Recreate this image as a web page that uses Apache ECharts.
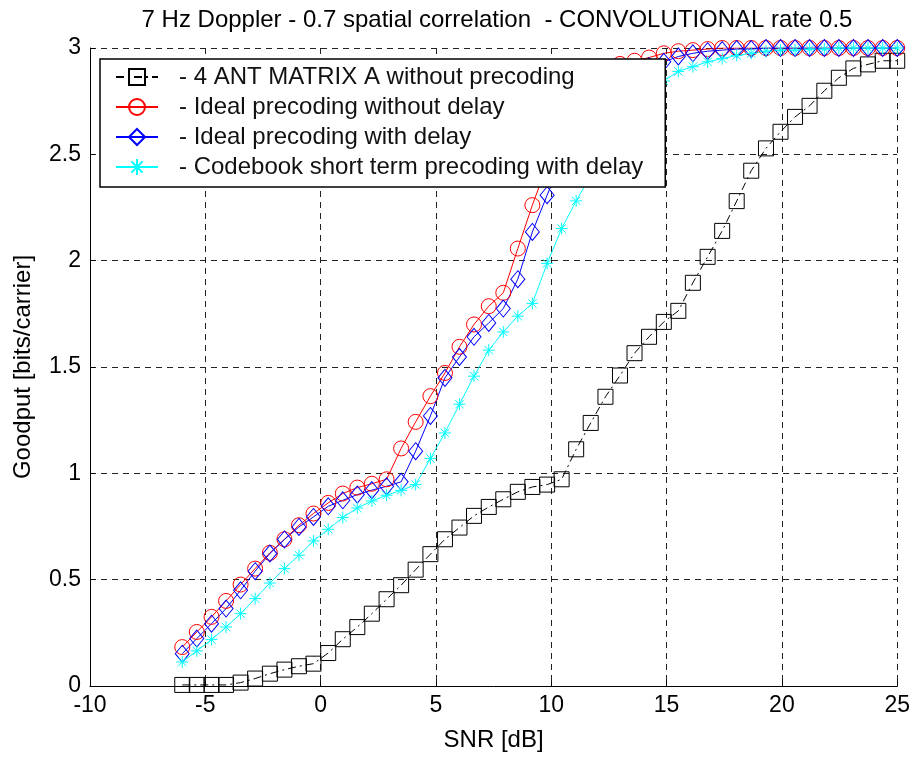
<!DOCTYPE html>
<html>
  <head>
    <meta charset="utf-8">
    <title>Goodput vs SNR</title>
    <style>
    html,body,#chart {
      margin: 0;
      padding: 0;
      width: 913px;
      height: 757px;
      background: #fff;
    }
    </style>
  </head>
  <body>
    <div id="chart"></div>
    <script src="https://cdn.jsdelivr.net/npm/echarts@6/dist/echarts.min.js"></script>
    <script type="text/javascript">
// SNR points (dB), same grid for every curve
var snr = [-6.00, -5.37, -4.73, -4.10, -3.47, -2.84, -2.20, -1.57, -0.94, -0.31,
           0.33, 0.96, 1.59, 2.22, 2.86, 3.49, 4.12, 4.76, 5.39, 6.02,
           6.65, 7.29, 7.92, 8.55, 9.18, 9.82, 10.45, 11.08, 11.71, 12.35,
           12.98, 13.61, 14.24, 14.88, 15.51, 16.14, 16.78, 17.41, 18.04, 18.67,
           19.31, 19.94, 20.57, 21.20, 21.84, 22.47, 23.10, 23.73, 24.37, 25.00];

var noPrecoding = [0.005, 0.005, 0.005, 0.005, 0.016, 0.035, 0.058, 0.077, 0.093, 0.105,
                   0.155, 0.22, 0.277, 0.34, 0.408, 0.474, 0.547, 0.62, 0.69, 0.745,
                   0.80, 0.842, 0.878, 0.913, 0.936, 0.947, 0.972, 1.113, 1.237, 1.36,
                   1.46, 1.565, 1.642, 1.712, 1.764, 1.896, 2.018, 2.14, 2.28, 2.423,
                   2.528, 2.606, 2.676, 2.728, 2.799, 2.86, 2.904, 2.923, 2.94, 2.94];

var idealNoDelay = [0.183, 0.254, 0.325, 0.40, 0.477, 0.552, 0.626, 0.69, 0.756, 0.811,
                    0.861, 0.905, 0.933, 0.951, 0.972, 1.117, 1.242, 1.363, 1.472, 1.595,
                    1.70, 1.786, 1.849, 2.057, 2.261, 2.45, 2.62, 2.75, 2.84, 2.895,
                    2.925, 2.94, 2.955, 2.975, 2.985, 2.99, 2.995, 3.0, 3.0, 3.0,
                    3.0, 3.0, 3.0, 3.0, 3.0, 3.0, 3.0, 3.0, 3.0, 3.0];

var idealDelay = [0.152, 0.223, 0.293, 0.364, 0.45, 0.54, 0.623, 0.689, 0.748, 0.795,
                  0.845, 0.873, 0.90, 0.921, 0.939, 0.96, 1.104, 1.27, 1.449, 1.547,
                  1.642, 1.707, 1.775, 1.913, 2.135, 2.308, 2.47, 2.6, 2.71, 2.79,
                  2.85, 2.89, 2.915, 2.935, 2.96, 2.975, 2.985, 2.99, 2.995, 2.995,
                  3.0, 3.0, 3.0, 3.0, 3.0, 3.0, 3.0, 3.0, 3.0, 3.0];

var codebookDelay = [0.113, 0.165, 0.218, 0.277, 0.34, 0.411, 0.484, 0.552, 0.615, 0.682,
                     0.737, 0.792, 0.837, 0.87, 0.897, 0.92, 0.947, 1.07, 1.19, 1.325,
                     1.457, 1.579, 1.665, 1.739, 1.799, 1.987, 2.151, 2.281, 2.40, 2.51,
                     2.61, 2.70, 2.78, 2.845, 2.89, 2.912, 2.935, 2.95, 2.965, 2.975,
                     2.985, 2.99, 2.99, 2.995, 2.995, 3.0, 3.0, 3.0, 3.0, 3.0];

var names = ['- 4 ANT MATRIX A without precoding',
             '- Ideal precoding without delay',
             '- Ideal precoding with delay',
             '- Codebook short term precoding with delay'];

var font = "'Liberation Sans', Arial, sans-serif";
var star = 'path://M5,0L5,10M0,5L10,5M1.5,1.5L8.5,8.5M1.5,8.5L8.5,1.5';

function pairs(ys) {
    var out = [];
    for (var i = 0; i < ys.length; i++) out.push([snr[i], ys[i]]);
    return out;
}

function curve(name, ys, color, symbol, size, dash) {
    return {
        name: name,
        type: 'line',
        data: pairs(ys),
        symbol: symbol,
        symbolSize: size,
        showAllSymbol: true,
        animation: false,
        itemStyle: {color: 'rgba(0,0,0,0)', borderColor: color, borderWidth: 1},
        lineStyle: {color: color, width: 1, type: dash || 'solid'}
    };
}

var chart = echarts.init(document.getElementById('chart'));

var axisCommon = {
    axisLine: {show: true, onZero: false, lineStyle: {color: '#000', width: 1}},
    axisTick: {show: true, inside: true, length: 5, lineStyle: {color: '#000'}},
    splitLine: {show: true, lineStyle: {color: '#222', width: 1, type: [6, 5]}},
    axisLabel: {color: '#000', fontSize: 23, fontFamily: font},
    nameTextStyle: {color: '#000', fontSize: 24, fontFamily: font}
};

chart.setOption({
    backgroundColor: '#fff',
    animation: false,
    title: {
        text: '7 Hz Doppler - 0.7 spatial correlation  - CONVOLUTIONAL rate 0.5',
        left: 492,
        textAlign: 'center',
        top: 3,
        textStyle: {color: '#000', fontSize: 24, fontWeight: 'normal', fontFamily: font}
    },
    grid: {left: 90, right: 15, top: 48, bottom: 71},
    legend: {
        data: names,
        orient: 'vertical',
        left: 100,
        top: 59,
        itemWidth: 42,
        itemHeight: 20,
        itemGap: 6,
        padding: [6, 22, 8, 15],
        backgroundColor: '#fff',
        borderColor: '#000',
        borderWidth: 1.5,
        borderRadius: 0,
        textStyle: {color: '#111', fontSize: 24, fontFamily: font, lineHeight: 24, padding: [0, 0, 0, 16]}
    },
    xAxis: Object.assign({}, axisCommon, {
        type: 'value',
        min: -10,
        max: 25,
        interval: 5,
        name: 'SNR [dB]',
        nameLocation: 'middle',
        nameGap: 42,
        axisLabel: Object.assign({}, axisCommon.axisLabel, {margin: 8})
    }),
    yAxis: Object.assign({}, axisCommon, {
        type: 'value',
        min: 0,
        max: 3,
        interval: 0.5,
        name: 'Goodput [bits/carrier]',
        nameLocation: 'middle',
        nameGap: 55,
        axisLabel: Object.assign({}, axisCommon.axisLabel, {margin: 9})
    }),
    series: [
        curve(names[0], noPrecoding, '#000', 'rect', 15, [8, 4, 2, 4]),
        curve(names[1], idealNoDelay, '#ff0000', 'circle', 15),
        curve(names[2], idealDelay, '#0000ff', 'diamond', [14, 17]),
        curve(names[3], codebookDelay, '#00ffff', star, 12)
    ]
});
</script>
  </body>
</html>
